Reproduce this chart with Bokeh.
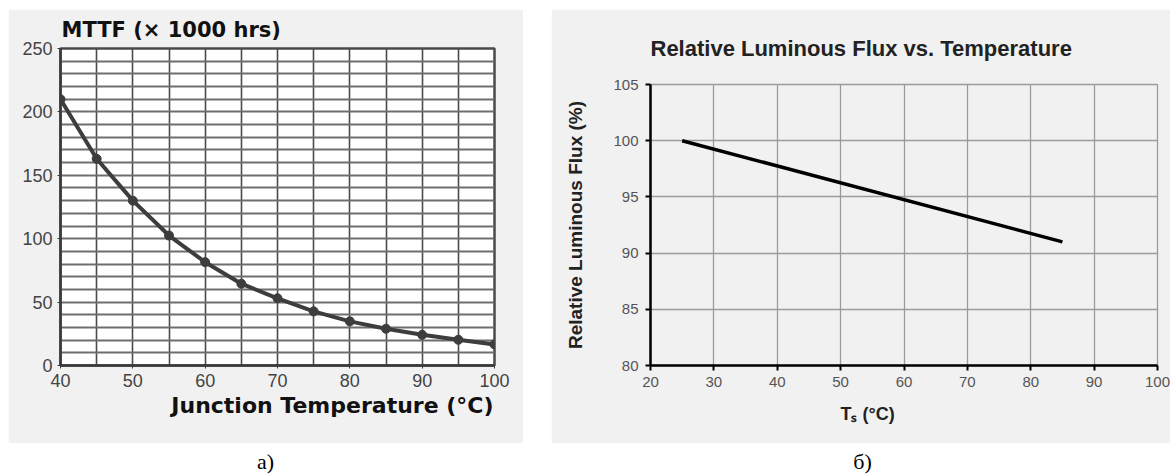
from bokeh.plotting import figure
from bokeh.models import Range1d, FixedTicker, Spacer, Title
from bokeh.layouts import row, column
from bokeh.embed import file_html
from bokeh.resources import INLINE
from bokeh.core.properties import value

# ---------------- data: panel a) ----------------
mttf_temp = [40, 45, 50, 55, 60, 65, 70, 75, 80, 85, 90, 95, 100]
mttf_khrs = [210, 163, 130, 102.5, 81.5, 64.5, 53, 42.7, 34.8, 29, 24.2, 20.3, 16.6]
a_xticks = [40, 50, 60, 70, 80, 90, 100]
a_yticks = [0, 50, 100, 150, 200, 250]
a_xgrid = list(range(40, 101, 5))
a_ygrid = list(range(0, 251, 10))
a_title = "MTTF (× 1000 hrs)"
a_xlabel = "Junction Temperature (°C)"

# ---------------- data: panel б) ----------------
flux_temp = [25, 85]
flux_rel = [100, 91]
b_xticks = [20, 30, 40, 50, 60, 70, 80, 90, 100]
b_yticks = [80, 85, 90, 95, 100, 105]
b_title = "Relative Luminous Flux vs. Temperature"
b_ylabel = "Relative Luminous Flux (%)"
b_xlabel = "Tₛ (°C)"

captions = ["a)", "б)"]

PANEL = "#f1f1f1"

# ---------------- panel a ----------------
pa = figure(width=515, height=434, x_range=Range1d(40, 100), y_range=Range1d(0, 250),
            output_backend="svg", toolbar_location=None,
            min_border_left=52, min_border_right=29, min_border_top=39, min_border_bottom=78,
            background_fill_color="white", border_fill_color=PANEL)
pa.frame_align = False
pa.outline_line_color = "#4a4a4a"
pa.outline_line_width = 2.5
pa.xaxis.ticker = FixedTicker(ticks=a_xticks)
pa.yaxis.ticker = FixedTicker(ticks=a_yticks)
pa.xgrid.ticker = FixedTicker(ticks=a_xgrid)
pa.ygrid.ticker = FixedTicker(ticks=a_ygrid)
pa.xgrid.grid_line_color = "#4a4a4a"
pa.xgrid.grid_line_width = 1.6
pa.ygrid.grid_line_color = "#6e6e6e"
pa.ygrid.grid_line_width = 2
for ax in (pa.xaxis[0], pa.yaxis[0]):
    ax.axis_line_color = "#3a3a3a"
    ax.axis_line_width = 2.5
    ax.major_tick_line_color = "#3a3a3a"
    ax.major_tick_out = 3
    ax.major_tick_in = 0
    ax.minor_tick_line_color = None
    ax.major_label_text_font = "Liberation Sans"
    ax.major_label_text_font_size = "18px"
    ax.major_label_text_color = "#444444"
pa.xaxis.major_label_standoff = 5
pa.yaxis.major_label_standoff = 5

pa.line(mttf_temp, mttf_khrs, line_color="#3d3d3d", line_width=4)
pa.scatter(mttf_temp, mttf_khrs, size=9, fill_color="#3d3d3d", line_color="#3d3d3d")

pa.add_layout(Title(text=a_title, align="left", offset=1, standoff=13,
                    text_font="DejaVu Sans", text_font_style="bold",
                    text_font_size="21px", text_color="#111111"), "above")
pa.add_layout(Title(text=a_xlabel, align="right", offset=1, standoff=3,
                    text_font="DejaVu Sans", text_font_style="bold",
                    text_font_size="22px", text_color="#111111"), "below")

# ---------------- panel b ----------------
pb = figure(width=619, height=434, x_range=Range1d(20, 100), y_range=Range1d(80, 105),
            output_backend="svg", toolbar_location=None,
            min_border_left=99, min_border_right=13, min_border_top=75, min_border_bottom=78,
            background_fill_color=PANEL, border_fill_color=PANEL)
pb.frame_align = False
pb.outline_line_color = "#9a9a9a"
pb.outline_line_width = 1.3
pb.xaxis.ticker = FixedTicker(ticks=b_xticks)
pb.yaxis.ticker = FixedTicker(ticks=b_yticks)
pb.grid.grid_line_color = "#9a9a9a"
pb.grid.grid_line_width = 1.3
for ax in (pb.xaxis[0], pb.yaxis[0]):
    ax.axis_line_color = "black"
    ax.axis_line_width = 2.5
    ax.major_tick_line_color = "black"
    ax.major_tick_line_width = 2
    ax.major_tick_out = 5
    ax.major_tick_in = 0
    ax.minor_tick_line_color = None
    ax.major_label_text_font = "Liberation Sans"
    ax.major_label_text_font_size = "15px"
    ax.major_label_text_color = "#555555"
pb.xaxis.major_label_standoff = 6
pb.yaxis.major_label_standoff = 7
pb.yaxis.axis_label = b_ylabel
pb.yaxis.axis_label_text_font = "Liberation Sans"
pb.yaxis.axis_label_text_font_style = "bold"
pb.yaxis.axis_label_text_font_size = "19px"
pb.yaxis.axis_label_text_color = "#222222"
pb.yaxis.axis_label_standoff = 24

pb.line(flux_temp, flux_rel, line_color="black", line_width=3.5)

pb.add_layout(Title(text=b_title, align="left", offset=0, standoff=47,
                    text_font="Liberation Sans", text_font_style="bold",
                    text_font_size="22px", text_color="#222222"), "above")
pb.add_layout(Title(text=b_xlabel, align="left", offset=190, standoff=25,
                    text_font="Liberation Sans", text_font_style="bold",
                    text_font_size="18px", text_color="#222222"), "below")

# ---------------- captions ----------------
pl = figure(width=1170, height=32, x_range=Range1d(0, 1170), y_range=Range1d(32, 0),
            output_backend="svg", toolbar_location=None, min_border=0,
            x_axis_location=None, y_axis_location=None,
            background_fill_color="white", border_fill_color="white")
pl.frame_align = False
pl.grid.visible = False
pl.outline_line_color = None
pl.text(x=[265, 862], y=[18, 18], text=captions, text_font=value("Liberation Serif"),
        text_font_size="22px", text_color="black", text_align="center", text_baseline="middle")

layout = column(
    Spacer(width=1170, height=9),
    row(Spacer(width=8, height=434), pa, Spacer(width=28, height=434), pb),
    pl,
)

open("out.html", "w").write(file_html(layout, INLINE))
